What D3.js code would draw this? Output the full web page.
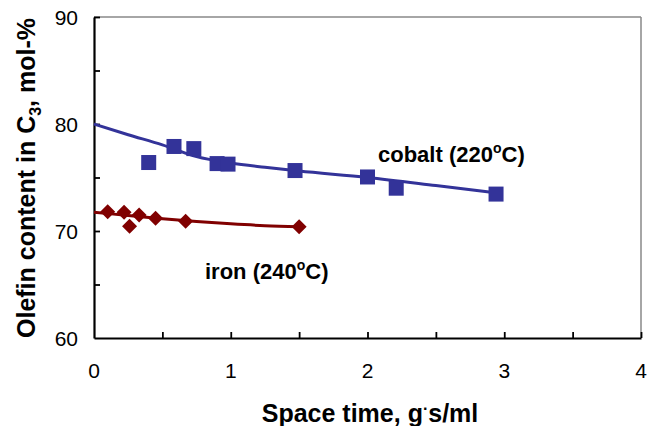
<!DOCTYPE html>
<html>
<head>
<meta charset="utf-8">
<script src="https://cdn.jsdelivr.net/npm/d3@7"></script>
<style>
  html, body { margin: 0; padding: 0; background: #fff; }
  svg { display: block; }
  text { font-family: "Liberation Sans", Arial, sans-serif; fill: #000; }
</style>
</head>
<body>
<svg id="chart" width="649" height="426"></svg>
<script>
// ---- data ----
const cobaltX = [0.40, 0.585, 0.73, 0.90, 0.98, 1.47, 2.00, 2.21, 2.94];
const cobaltY = [76.4, 77.9, 77.7, 76.3, 76.25, 75.65, 75.05, 74.0, 73.45];
const ironX = [0.10, 0.22, 0.26, 0.33, 0.45, 0.67, 1.50];
const ironY = [71.8, 71.75, 70.45, 71.5, 71.2, 70.9, 70.4];
// fitted trend lines
const cobaltFitX = [0, 0.25, 0.5, 0.75, 1.0, 1.25, 1.5, 2.0, 2.5, 2.95];
const cobaltFitY = [80.0, 79.0, 78.05, 76.95, 76.35, 75.95, 75.6, 75.0, 74.25, 73.55];
const ironFitX = [0, 0.25, 0.5, 0.75, 1.0, 1.25, 1.5];
const ironFitY = [71.75, 71.45, 71.15, 70.88, 70.67, 70.5, 70.4];
const xTicks = [0, 1, 2, 3, 4];
const yTicks = [60, 70, 80, 90];
const xMinorTicks = [0.5, 1, 1.5, 2, 2.5, 3, 3.5, 4];
const yMinorTicks = [65, 70, 75, 80, 85, 90];
const xTitle = "Space time, g";
const yTitle = "Olefin content in C";

const svg = d3.select("#chart");
const x = d3.scaleLinear().domain([0, 4]).range([94, 641]);
const y = d3.scaleLinear().domain([60, 90]).range([338, 17]);

const blue = "#333399", red = "#800000";

// top/right grey frame
svg.append("line").attr("x1", x(0)).attr("x2", x(4)).attr("y1", y(90)).attr("y2", y(90))
  .attr("stroke", "#888").attr("stroke-width", 1.5);
svg.append("line").attr("x1", x(4)).attr("x2", x(4)).attr("y1", y(90)).attr("y2", y(60))
  .attr("stroke", "#888").attr("stroke-width", 1.5);

// axes
const xAxis = d3.axisBottom(x).tickValues(xMinorTicks).tickSizeInner(-6).tickSizeOuter(0).tickFormat("");
const yAxis = d3.axisLeft(y).tickValues(yMinorTicks).tickSizeInner(-6).tickSizeOuter(0).tickFormat("");
const gx = svg.append("g").attr("transform", `translate(0,${y(60)})`).call(xAxis);
const gy = svg.append("g").attr("transform", `translate(${x(0)},0)`).call(yAxis);
[gx, gy].forEach(g => {
  g.select(".domain").attr("stroke", "#000").attr("stroke-width", 2.2);
  g.selectAll(".tick line").attr("stroke", "#000").attr("stroke-width", 1.8);
});

// tick labels
svg.append("g").selectAll("text").data(xTicks).join("text")
  .attr("x", d => x(d)).attr("y", 378).attr("text-anchor", "middle")
  .attr("font-size", 21).text(d => d);
svg.append("g").selectAll("text").data(yTicks).join("text")
  .attr("x", 78).attr("y", d => y(d) + 7.5).attr("text-anchor", "end")
  .attr("font-size", 21).text(d => d);

// axis titles
const xt = svg.append("text").attr("x", 370).attr("y", 422).attr("text-anchor", "middle")
  .attr("font-size", 25).attr("font-weight", "bold");
xt.append("tspan").text(xTitle);
xt.append("tspan").attr("dy", -8).attr("font-size", 16).text("·");
xt.append("tspan").attr("dy", 8).text("s/ml");

const yt = svg.append("text").attr("transform", "translate(35,178) rotate(-90)")
  .attr("text-anchor", "middle").attr("font-size", 25).attr("font-weight", "bold");
yt.append("tspan").text(yTitle);
yt.append("tspan").attr("dy", 6).attr("font-size", 16).text("3");
yt.append("tspan").attr("dy", -6).text(", mol-%");

// trend lines
const line = d3.line().x(d => x(d[0])).y(d => y(d[1])).curve(d3.curveMonotoneX);
svg.append("path").attr("d", line(d3.zip(cobaltFitX, cobaltFitY)))
  .attr("fill", "none").attr("stroke", blue).attr("stroke-width", 3);
svg.append("path").attr("d", line(d3.zip(ironFitX, ironFitY)))
  .attr("fill", "none").attr("stroke", red).attr("stroke-width", 3);

// markers
const sq = 15;
svg.append("g").selectAll("rect").data(d3.zip(cobaltX, cobaltY)).join("rect")
  .attr("x", d => x(d[0]) - sq / 2).attr("y", d => y(d[1]) - sq / 2)
  .attr("width", sq).attr("height", sq).attr("fill", blue);
const dm = 7.5;
svg.append("g").selectAll("path").data(d3.zip(ironX, ironY)).join("path")
  .attr("d", d => {
    const cx = x(d[0]), cy = y(d[1]);
    return `M${cx},${cy - dm}L${cx + dm},${cy}L${cx},${cy + dm}L${cx - dm},${cy}Z`;
  })
  .attr("fill", red);

// annotations
function label(px, py, pre, post) {
  const t = svg.append("text").attr("x", px).attr("y", py)
    .attr("font-size", 22).attr("font-weight", "bold");
  t.append("tspan").text(pre);
  t.append("tspan").attr("dy", -9).attr("font-size", 14).text("o");
  t.append("tspan").attr("dy", 9).text(post);
}
label(378, 162, "cobalt (220", "C)");
label(205, 279, "iron (240", "C)");
</script>
</body>
</html>
